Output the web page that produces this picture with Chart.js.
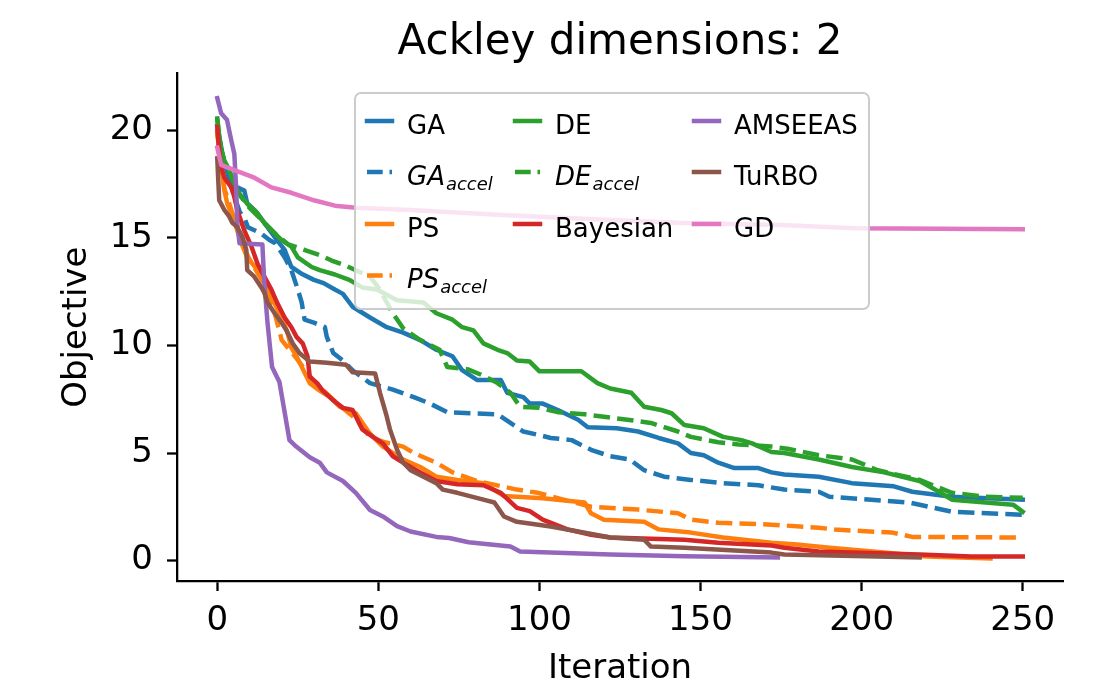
<!DOCTYPE html>
<html>
<head>
<meta charset="utf-8">
<script src="https://cdn.jsdelivr.net/npm/chart.js@4.4.1/dist/chart.umd.min.js"></script>
<style>
	html, body { margin: 0; padding: 0; background: #fff; }
</style>
</head>
<body>
<canvas id="chart" width="1114" height="690"></canvas>
<script>
// values: [iteration, objective]
const xTicks = [0, 50, 100, 150, 200, 250];
const yTicks = [0, 5, 10, 15, 20];
const names = ['GA', 'GA_accel', 'PS', 'PS_accel', 'DE', 'DE_accel', 'Bayesian', 'AMSEEAS', 'TuRBO', 'GD'];

const ga = [[0,20.2],[2,18.6],[4,17.6],[6.2,17.35],[8.4,17.2],[9.3,16.6],[11.5,16.3],[14.6,15.7],[17.8,15.05],[20.9,14.45],[23,13.65],[26,13.35],[30,13.05],[33,12.9],[36.5,12.6],[39,12.4],[42,11.8],[47.4,11.3],[52.6,10.85],[57.7,10.6],[63,10.25],[68,9.8],[73,9.5],[76,8.85],[80.6,8.4],[88,8.4],[90,7.8],[95,7.6],[97,7.3],[101,7.3],[105.7,7.0],[112,6.55],[115,6.2],[124,6.15],[130.6,6.0],[137,5.7],[143,5.45],[147,5.0],[151,4.9],[155.5,4.55],[160.5,4.3],[168,4.3],[172,4.1],[176,4.0],[186.7,3.9],[197,3.6],[210,3.45],[215.7,3.2],[228,2.97],[250,2.83]];
const gaAccel = [[0,20.0],[2,18.5],[4,17.5],[7,16.2],[8.4,15.95],[9.5,15.5],[13.7,15.2],[16.2,14.9],[18,14.75],[20.9,14.1],[23,13.5],[25,12.6],[26.2,12.0],[27.1,11.2],[30.2,11.05],[33.4,10.85],[34,10.4],[36,9.65],[39,9.3],[42,8.85],[47.4,8.25],[54.5,7.95],[61,7.6],[66,7.3],[71.4,6.9],[78.5,6.85],[87,6.8],[91,6.4],[95,6.0],[99.5,5.85],[103.5,5.7],[110,5.6],[116,5.15],[122,4.85],[128,4.7],[132.5,4.2],[138.7,3.9],[147,3.75],[157,3.6],[168,3.5],[176,3.3],[186.7,3.2],[190,2.97],[203,2.83],[214.7,2.7],[221,2.5],[228,2.27],[250,2.13]];
const ps = [[0,19.9],[1,18.6],[2.2,17.2],[3.1,16.6],[5.3,15.8],[6.2,15.35],[7.5,14.75],[9.3,14.1],[12.5,13.5],[15.6,12.7],[17.8,11.95],[20,11.3],[21.8,10.6],[23,9.9],[24.6,9.5],[28.7,8.25],[31.8,7.9],[35,7.6],[38,7.15],[43,6.85],[47.4,5.9],[51.4,5.3],[57.7,4.7],[63,4.35],[68,3.9],[74.5,3.75],[82.6,3.6],[89,3.0],[101,2.9],[114,2.7],[116,2.2],[120,1.9],[132.5,1.8],[137,1.45],[147,1.3],[157,1.07],[172,0.83],[180,0.75],[190,0.6],[207,0.37],[220,0.19],[240,0.1]];
const psAccel = [[0,19.9],[1,18.6],[2.2,17.3],[5,16.0],[7,15.0],[10,14.0],[14,13.0],[17,12.0],[20,10.25],[24.6,9.4],[29.6,8.4],[33,7.9],[38,7.2],[43,6.6],[47.4,5.75],[52,5.5],[57.7,5.3],[61,5.0],[68,4.55],[73,4.1],[80.6,3.7],[93,3.3],[99.5,3.15],[107.5,2.83],[116,2.5],[130.6,2.37],[143,2.2],[147,1.9],[155.5,1.76],[172,1.67],[186.7,1.53],[191.7,1.44],[209.5,1.3],[215.7,1.1],[250,1.07]];
const de = [[0,20.55],[0.5,19.85],[1.2,19.1],[2.2,18.6],[3.7,18.15],[5.3,17.5],[6.2,17.2],[7.5,16.9],[9.3,16.6],[12.5,16.15],[14.6,15.7],[16.8,15.35],[20,14.9],[23,14.6],[25,14.1],[29.3,13.65],[31.8,13.5],[36.5,13.3],[41,13.05],[45,12.7],[49.5,12.6],[55.8,12.1],[64,12.0],[68,11.5],[73,11.2],[76,10.85],[79.5,10.7],[82.6,10.1],[87,9.8],[90,9.65],[93,9.3],[97,9.25],[100,8.8],[113,8.8],[118,8.25],[122,8.0],[128.5,7.8],[132.5,7.15],[137.8,7.0],[141,6.85],[145,6.3],[151,6.15],[157,5.75],[162.7,5.6],[166,5.45],[172,5.05],[176,5.0],[186.7,4.7],[197,4.35],[207,4.1],[218,3.7],[224,3.2],[228,2.83],[238.5,2.7],[247,2.6],[250,2.27]];
const deAccel = [[0,20.55],[0.5,19.85],[1.2,19.1],[2.2,18.6],[3.7,18.15],[5.3,17.5],[7.5,16.9],[10,16.4],[14,15.8],[18,15.2],[22,14.7],[27,14.45],[31.8,14.2],[35.5,13.95],[40,13.7],[43,13.5],[47.4,13.2],[50.5,12.6],[52.6,12.0],[54.5,11.5],[57.7,10.8],[63,10.25],[69,9.8],[71.4,9.0],[77.6,8.9],[82.6,8.6],[87,8.25],[91,7.8],[94,7.15],[100,7.1],[105.7,6.9],[114,6.8],[122,6.65],[134.6,6.4],[138.7,6.2],[143,6.0],[147,5.75],[155.5,5.5],[161.8,5.4],[172,5.3],[177,5.2],[186.7,4.9],[197,4.7],[205,4.2],[218,3.75],[228,3.15],[238.5,2.97],[250,2.92]];
const bayesian = [[0,20.15],[0.5,19.2],[1.2,18.3],[2.2,17.8],[4.4,17.35],[5.3,16.9],[6.2,16.3],[8.4,15.35],[10.6,14.6],[12.5,13.8],[14.6,13.2],[16.8,12.6],[18.7,11.95],[20.9,11.3],[23,10.85],[24.6,10.4],[26.5,10.1],[28,9.5],[28.7,8.55],[31,8.25],[32.7,7.9],[36,7.45],[39,7.1],[42,7.0],[45,6.1],[48.3,5.75],[51.4,5.45],[54.5,4.85],[57.7,4.55],[63,4.1],[68,3.7],[74.5,3.55],[82.6,3.5],[88,3.15],[93,2.45],[97,2.3],[101,1.9],[108.7,1.45],[116,1.2],[122,1.07],[145,0.97],[155.5,0.83],[172,0.7],[176,0.6],[186.7,0.42],[218,0.28],[234,0.19],[250,0.19]];
const amseeas = [[0,21.5],[1.2,20.8],[3,20.5],[4.4,19.5],[5.3,18.9],[5.9,17.2],[6.2,15.7],[6.9,14.75],[14,14.7],[14.6,12.9],[15.6,11.05],[17,9.0],[19.3,8.3],[22.4,5.6],[24.5,5.3],[28.7,4.8],[31.8,4.55],[34,4.1],[39,3.7],[43,3.15],[47.4,2.35],[51.4,2.05],[55.8,1.6],[60,1.35],[68,1.1],[72,1.05],[78,0.85],[91,0.65],[94,0.42],[122,0.28],[145,0.2],[174,0.14]];
const turbo = [[0,18.7],[0.3,17.7],[0.6,16.75],[2.2,16.3],[3.7,16.0],[4.7,15.7],[6.2,15.5],[7.8,15.05],[9,14.45],[9.3,13.5],[11.5,13.2],[13.7,12.7],[14.6,12.45],[15.6,12.0],[17.8,11.5],[20,11.05],[21.5,10.7],[23.4,10.1],[25.5,9.65],[28.7,9.25],[34,9.2],[40,9.1],[42,8.75],[49,8.7],[50.5,7.8],[52.6,6.7],[53.6,6.1],[55.8,5.15],[57.7,4.55],[60,4.2],[64,3.9],[68,3.6],[70,3.3],[74.5,3.15],[82.6,2.83],[86,2.7],[89,2.05],[93,1.8],[103.5,1.58],[112,1.35],[122,1.07],[132.5,0.97],[134.6,0.65],[145,0.6],[172,0.37],[176,0.28],[205,0.19],[218,0.14]];
const gd = [[0,19.2],[1.2,18.4],[5.3,18.15],[11.5,17.8],[16.8,17.35],[23,17.1],[30,16.75],[36.5,16.5],[43,16.4],[60,16.3],[90,16.05],[120,15.85],[145,15.7],[175,15.6],[198,15.45],[250,15.4]];

const series = [ga, gaAccel, ps, psAccel, de, deAccel, bayesian, amseeas, turbo, gd];
const colors = ['#1f77b4', '#1f77b4', '#ff7f0e', '#ff7f0e', '#2ca02c', '#2ca02c', '#d62728', '#9467bd', '#8c564b', '#e377c2'];

const FONT = '"DejaVu Sans", sans-serif';
const LW = 4.5;
const DASH = [16.5, 7.2];

// legend drawn inside the axes, matplotlib style (3 columns, column-major)
const insideLegend = {
	id: 'insideLegend',
	afterDatasetsDraw(chart) {
		const ctx = chart.ctx;
		const box = { left: 355, top: 93, right: 869, bottom: 309, r: 6 };
		const colX = [367, 515, 694];
		const rowY = [121, 172, 224, 275.5];
		const perCol = [4, 3, 3];

		ctx.save();
		ctx.beginPath();
		ctx.moveTo(box.left + box.r, box.top);
		ctx.arcTo(box.right, box.top, box.right, box.bottom, box.r);
		ctx.arcTo(box.right, box.bottom, box.left, box.bottom, box.r);
		ctx.arcTo(box.left, box.bottom, box.left, box.top, box.r);
		ctx.arcTo(box.left, box.top, box.right, box.top, box.r);
		ctx.closePath();
		ctx.fillStyle = 'rgba(255,255,255,0.8)';
		ctx.fill();
		ctx.strokeStyle = '#cccccc';
		ctx.lineWidth = 2;
		ctx.stroke();

		let idx = 0;
		perCol.forEach((n, c) => {
			for (let r = 0; r < n; r++, idx++) {
				const ds = chart.data.datasets[idx];
				const hx = colX[c], hy = rowY[r];
				const isDashed = ds.borderDash && ds.borderDash.length;
				ctx.beginPath();
				ctx.strokeStyle = ds.borderColor;
				ctx.lineWidth = LW;
				ctx.setLineDash(isDashed ? [15.7, 6.8] : []);
				ctx.lineCap = isDashed ? 'butt' : 'square';
				ctx.moveTo(hx, hy);
				ctx.lineTo(hx + 25, hy);
				ctx.stroke();
				ctx.setLineDash([]);

				const tx = hx + 40, base = hy + 12.5;
				ctx.fillStyle = '#000';
				ctx.textBaseline = 'alphabetic';
				ctx.textAlign = 'left';
				const parts = ds.label.split('_');
				if (parts.length > 1) {
					ctx.font = 'italic 26px ' + FONT;
					ctx.fillText(parts[0], tx, base);
					const w = ctx.measureText(parts[0]).width;
					ctx.font = 'italic 18px ' + FONT;
					ctx.fillText(parts[1], tx + w + 1, base + 5);
				} else {
					ctx.font = '26px ' + FONT;
					ctx.fillText(ds.label, tx, base);
				}
			}
		});
		ctx.restore();
	}
};

const datasets = series.map((pts, i) => ({
	label: names[i],
	data: pts.map(p => ({ x: p[0], y: p[1] })),
	borderColor: colors[i],
	backgroundColor: colors[i],
	borderWidth: LW,
	borderDash: names[i].endsWith('_accel') ? DASH : [],
	borderCapStyle: names[i].endsWith('_accel') ? 'butt' : 'square',
	borderJoinStyle: 'round',
	pointRadius: 0,
	tension: 0,
	fill: false,
	order: series.length - i
}));

const axisCommon = {
	grid: { display: true, drawOnChartArea: false, drawTicks: true, tickLength: 10, tickWidth: 2.3, tickColor: '#000' },
	border: { display: true, color: '#000', width: 2.3 }
};

new Chart(document.getElementById('chart').getContext('2d'), {
	type: 'line',
	data: { datasets },
	plugins: [insideLegend],
	options: {
		responsive: false,
		devicePixelRatio: 1,
		animation: false,
		layout: { padding: { left: 0, right: 51, top: 0, bottom: 0 } },
		plugins: {
			legend: { display: false },
			tooltip: { enabled: false },
			title: {
				display: true,
				text: 'Ackley dimensions: 2',
				color: '#000',
				font: { family: FONT, size: 42, weight: 'normal' },
				padding: { top: 18, bottom: 5 },
				fullSize: false
			}
		},
		scales: {
			x: {
				type: 'linear',
				min: -12.5,
				max: 262.5,
				...axisCommon,
				afterBuildTicks: s => { s.ticks = xTicks.map(v => ({ value: v })); },
				afterFit: s => { s.height = 109; },
				ticks: { color: '#000', font: { family: FONT, size: 34 }, padding: 10, maxRotation: 0, autoSkip: false },
				title: { display: true, text: 'Iteration', color: '#000', font: { family: FONT, size: 34 }, padding: { top: 0, bottom: 0 } }
			},
			y: {
				type: 'linear',
				min: -0.95,
				max: 22.65,
				...axisCommon,
				afterBuildTicks: s => { s.ticks = yTicks.map(v => ({ value: v })); },
				afterFit: s => { s.width = 177; },
				ticks: { color: '#000', font: { family: FONT, size: 34 }, padding: 14, autoSkip: false },
				title: { display: true, text: 'Objective', color: '#000', font: { family: FONT, size: 34 }, padding: { top: 56.6, bottom: 0 } }
			}
		}
	}
});
</script>
</body>
</html>
